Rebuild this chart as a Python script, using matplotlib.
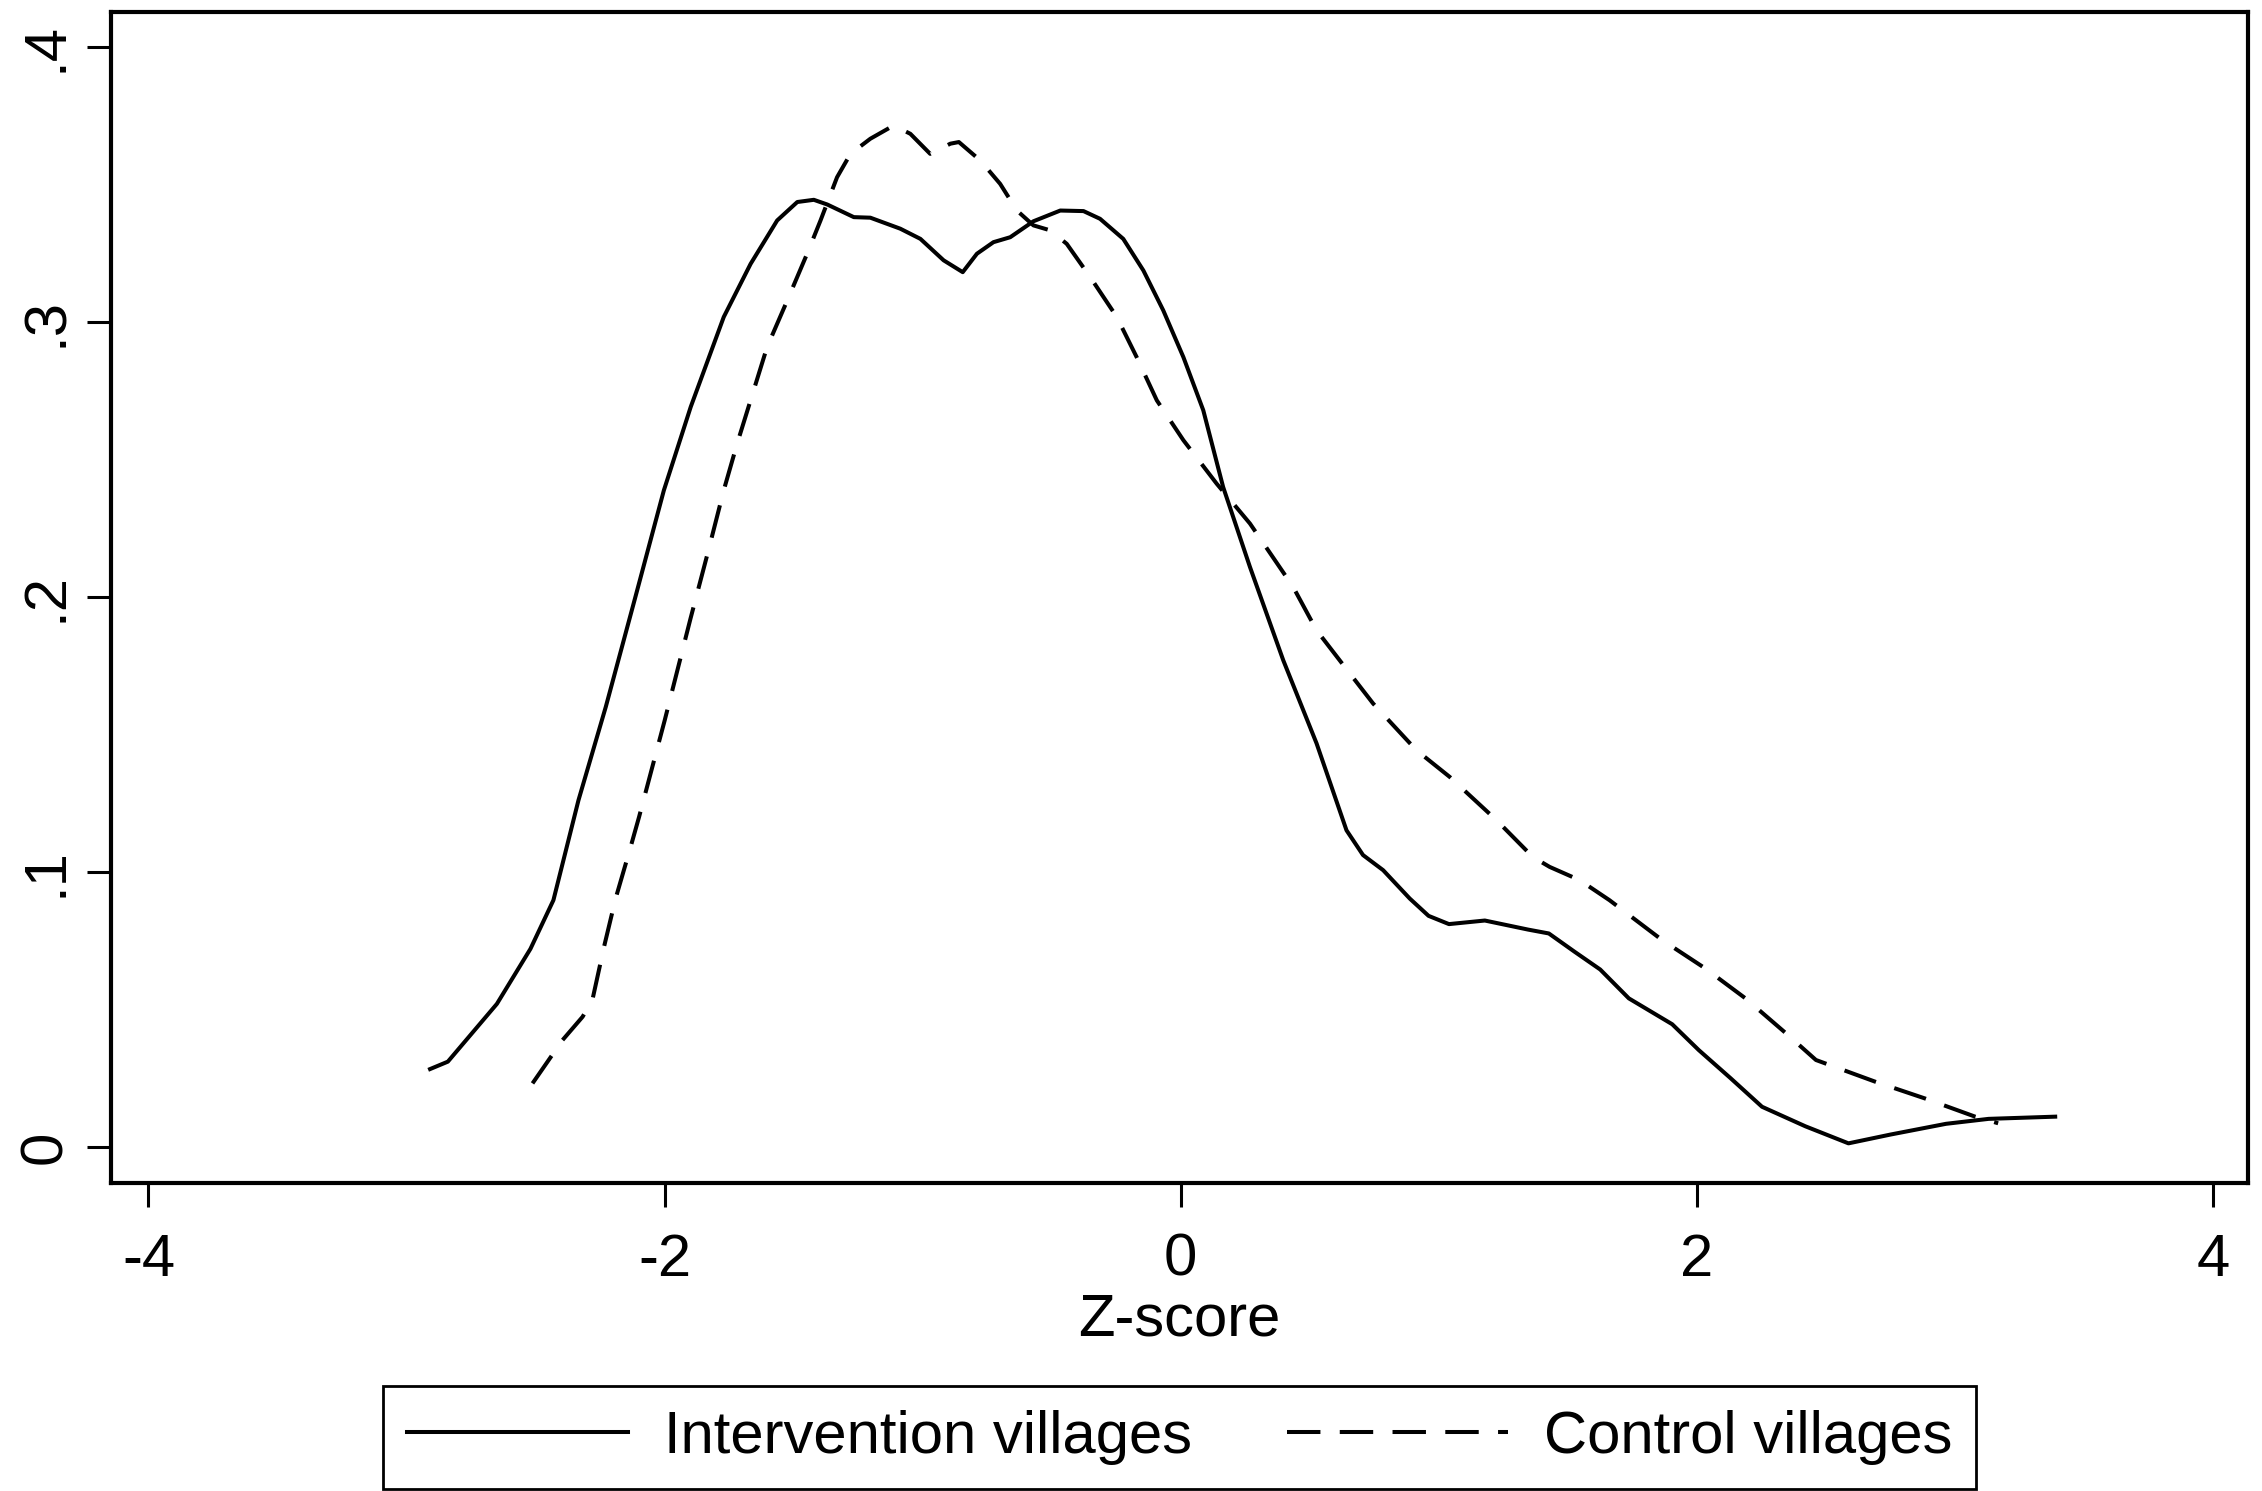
import matplotlib
matplotlib.use("Agg")
import matplotlib.pyplot as plt

plt.rcParams['font.family'] = ['Liberation Sans', 'DejaVu Sans']

# kernel density of z-scores
int_x = [-2.909, -2.84, -2.65, -2.52, -2.431, -2.334, -2.228, -2.116, -2.003, -1.899,
         -1.771, -1.667, -1.564, -1.486, -1.422, -1.370, -1.267, -1.203, -1.087, -1.009,
         -0.919, -0.845, -0.790, -0.726, -0.661, -0.571, -0.467, -0.377, -0.313, -0.223,
         -0.145, -0.068, 0.010, 0.087, 0.164, 0.268, 0.397, 0.526, 0.642, 0.706,
         0.784, 0.887, 0.96, 1.039, 1.178, 1.346, 1.426, 1.525, 1.625, 1.736,
         1.904, 2.007, 2.13, 2.252, 2.42, 2.587, 2.75, 2.965, 3.13, 3.388]
int_y = [0.0283, 0.031, 0.052, 0.072, 0.0897, 0.126, 0.160, 0.199, 0.2387, 0.269,
         0.3017, 0.321, 0.3368, 0.3435, 0.3443, 0.3426, 0.338, 0.3378, 0.3338, 0.3301,
         0.3223, 0.318, 0.3247, 0.3289, 0.3307, 0.3365, 0.3404, 0.3402, 0.3374, 0.3301,
         0.3186, 0.3041, 0.2871, 0.2678, 0.2399, 0.2108, 0.1769, 0.1467, 0.1151, 0.1061,
         0.1006, 0.0903, 0.084, 0.081, 0.0823, 0.079, 0.0776, 0.071, 0.0645, 0.054,
         0.0446, 0.0352, 0.025, 0.0146, 0.0075, 0.0013, 0.0045, 0.0084, 0.0102, 0.011]

ctl_x = [-2.512, -2.396, -2.318, -2.280, -2.235, -2.190, -2.132, -2.099, -2.0, -1.9,
         -1.83, -1.771, -1.719, -1.603, -1.525, -1.448, -1.396, -1.332, -1.280, -1.203,
         -1.113, -1.048, -0.971, -0.893, -0.86, -0.777, -0.700, -0.635, -0.571, -0.506,
         -0.442, -0.351, -0.248, -0.171, -0.093, 0.010, 0.139, 0.268, 0.435, 0.526,
         0.655, 0.745, 0.913, 1.042, 1.223, 1.364, 1.429, 1.545, 1.661, 1.865,
         2.032, 2.188, 2.345, 2.461, 2.691, 2.884, 3.078, 3.167]
ctl_y = [0.0231, 0.0388, 0.0473, 0.0534, 0.0727, 0.0903, 0.109, 0.120, 0.155, 0.192,
         0.217, 0.2387, 0.2557, 0.2908, 0.3077, 0.3247, 0.3368, 0.3525, 0.361, 0.3665,
         0.3713, 0.3683, 0.361, 0.3647, 0.3653, 0.3586, 0.3501, 0.3404, 0.335, 0.3332,
         0.3283, 0.3162, 0.3017, 0.2871, 0.2714, 0.2569, 0.2411, 0.2266, 0.2036, 0.1878,
         0.1721, 0.1612, 0.1442, 0.1345, 0.1188, 0.1054, 0.1018, 0.0970, 0.0897, 0.0752,
         0.0649, 0.054, 0.0413, 0.0316, 0.0237, 0.0176, 0.011, 0.0086]

xticks = [-4, -2, 0, 2, 4]
yticks = [0, 0.1, 0.2, 0.3, 0.4]
ylabels = ['0', '.1', '.2', '.3', '.4']

fig = plt.figure(figsize=(22.62, 14.91), dpi=100)
ax = fig.add_axes([0.0491, 0.2066, 0.9447, 0.7854])

ax.plot(int_x, int_y, color='black', lw=2.9, solid_joinstyle='round',
        label='Intervention villages')
ax.plot(ctl_x, ctl_y, color='black', lw=2.9, dashes=(8.3, 4.8), dash_joinstyle='round',
        label='Control villages')

ax.set_xlim(-4.145, 4.135)
ax.set_ylim(-0.0131, 0.4126)
ax.set_xticks(xticks)
ax.set_xticklabels([str(t) for t in xticks])
ax.set_yticks(yticks)
ax.set_yticklabels(ylabels, rotation=90, va='center')
ax.tick_params(axis='both', direction='out', length=17, width=2.2, labelsize=43)
ax.tick_params(axis='x', pad=19)
ax.tick_params(axis='y', pad=10)
for s in ax.spines.values():
    s.set_linewidth(3)
ax.set_xlabel('Z-score', fontsize=43, labelpad=3)

leg = fig.legend(loc='lower center', bbox_to_anchor=(0.5215, 0.0015), ncol=2, fontsize=43,
                 handlelength=3.7, handletextpad=0.6, columnspacing=1.6,
                 fancybox=False, edgecolor='black', framealpha=1, borderpad=0.4,
                 borderaxespad=0)
leg.get_frame().set_linewidth(2)

fig.savefig('out.png', dpi=100)
